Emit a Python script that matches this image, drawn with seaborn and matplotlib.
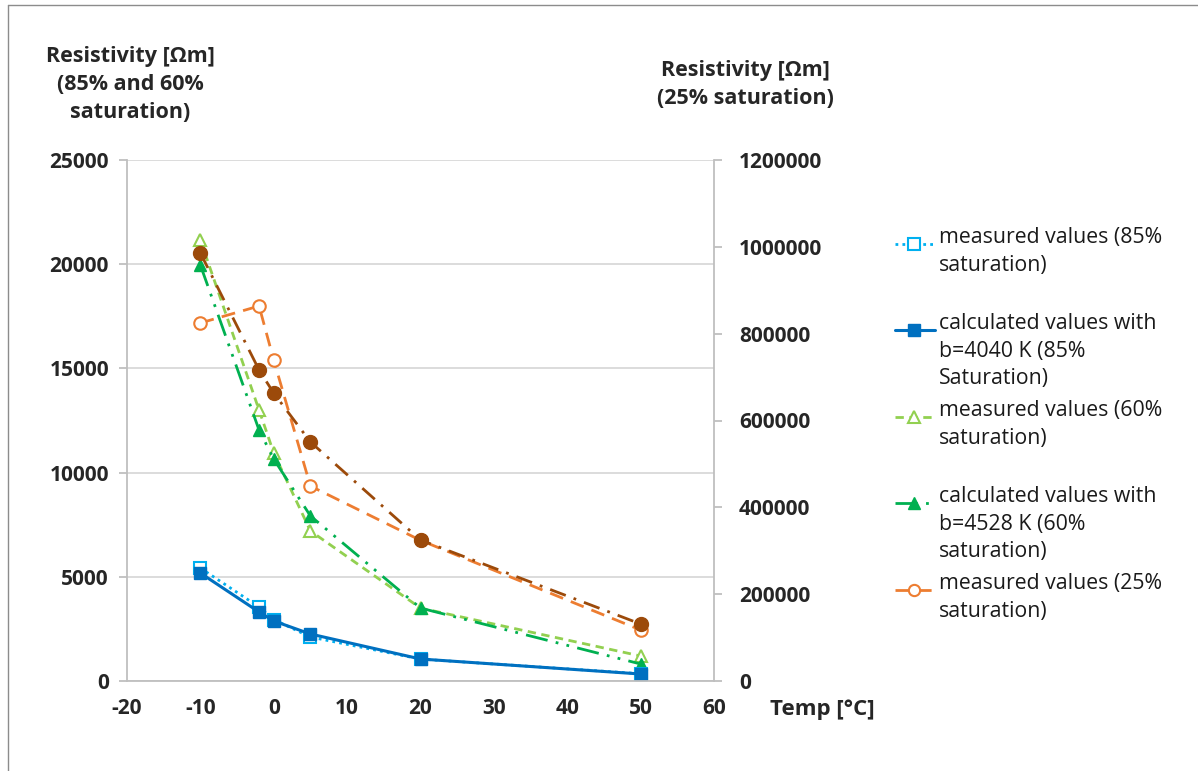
import matplotlib
matplotlib.use("Agg")
import matplotlib.pyplot as plt
from matplotlib.lines import Line2D
import seaborn as sns
import numpy as np

temps = [-10, -2, 0, 5, 20, 50]
meas_85 = [5420, 3550, 2950, 2110, 1050, 350]
calc_4040 = [5180, 3310, 2880, 2255, 1055, 336]
meas_60 = [21160, 13000, 10940, 7200, 3500, 1200]
calc_4528 = [19960, 12040, 10650, 7920, 3500, 816]
meas_25 = [824600, 863700, 739000, 449000, 324000, 117500]
calc_25 = [985800, 716300, 663000, 550500, 324800, 131300]

left_ticks = [0, 5000, 10000, 15000, 20000, 25000]
right_ticks = [0, 200000, 400000, 600000, 800000, 1000000, 1200000]
x_ticks = [-20, -10, 0, 10, 20, 30, 40, 50, 60]

labels = [
    "measured values (85%\nsaturation)",
    "calculated values with\nb=4040 K (85%\nSaturation)",
    "measured values (60%\nsaturation)",
    "calculated values with\nb=4528 K (60%\nsaturation)",
    "measured values (25%\nsaturation)",
]

sns.set_style("white")
plt.rcParams['font.family'] = ['Open Sans', 'DejaVu Sans']

W, H = 1198, 771
fig = plt.figure(figsize=(W / 100, H / 100), dpi=100)
ax = fig.add_axes([127 / W, 1 - 681 / H, (714 - 127) / W, (681 - 160) / H])
ax2 = ax.twinx()

C_LB = "#00b0f0"
C_B = "#0070c0"
C_LG = "#92d050"
C_G = "#00b050"
C_O = "#ed7d31"
C_BR = "#9c4a0a"

styles = [
    dict(color=C_LB, linestyle=(0, (1, 1.5)), lw=2, marker='s', ms=9, mfc='white', mec=C_LB, mew=1.5),
    dict(color=C_B, linestyle='-', lw=2.2, marker='s', ms=9, mfc=C_B, mec=C_B, mew=1),
    dict(color=C_LG, linestyle=(0, (3, 2)), lw=2, marker='^', ms=9, mfc='white', mec=C_LG, mew=1.5),
    dict(color=C_G, linestyle=(0, (8, 3, 1, 3, 1, 3)), lw=2, marker='^', ms=9, mfc=C_G, mec=C_G, mew=1),
    dict(color=C_O, linestyle=(0, (5, 3)), lw=2, marker='o', ms=9, mfc='white', mec=C_O, mew=1.5),
    dict(color=C_BR, linestyle=(0, (6, 3, 1, 3)), lw=2, marker='o', ms=10, mfc=C_BR, mec=C_BR, mew=1),
]

sns.lineplot(x=temps, y=meas_60, ax=ax, **styles[2])
sns.lineplot(x=temps, y=calc_4528, ax=ax, **styles[3])
sns.lineplot(x=temps, y=meas_85, ax=ax, **styles[0])
sns.lineplot(x=temps, y=calc_4040, ax=ax, **styles[1])
sns.lineplot(x=temps, y=meas_25, ax=ax2, **styles[4])
sns.lineplot(x=temps, y=calc_25, ax=ax2, **styles[5])

ax.set_xlim(-20, 60)
ax.set_ylim(0, 25000)
ax2.set_ylim(0, 1200000)
ax.set_xticks(x_ticks)
ax.set_yticks(left_ticks)
ax2.set_yticks(right_ticks)
ax.set_xticklabels([str(v) for v in x_ticks])
ax.set_yticklabels([str(v) for v in left_ticks])
ax2.set_yticklabels([str(v) for v in right_ticks])

for a in (ax, ax2):
    for s in a.spines.values():
        s.set_visible(False)
    a.set_xlabel("")
    a.set_ylabel("")
ax.grid(False)
ax2.grid(False)
ax.yaxis.grid(True, color="#d9d9d9", lw=1.3)
ax.set_axisbelow(True)
ax.spines['left'].set_visible(True)
ax.spines['bottom'].set_visible(True)
ax2.spines['right'].set_visible(True)
for s in (ax.spines['left'], ax.spines['bottom'], ax2.spines['right']):
    s.set_color("#bfbfbf")
    s.set_linewidth(1.3)

ax.tick_params(axis='both', which='major', direction='out', length=6, color="#bfbfbf", width=1.3, labelsize=15)
ax2.tick_params(axis='y', direction='out', length=6, color="#bfbfbf", width=1.3, labelsize=15, pad=12)
ax.tick_params(axis='y', pad=7)
ax.tick_params(axis='x', pad=6)
for lab in ax.get_xticklabels() + ax.get_yticklabels() + ax2.get_yticklabels():
    lab.set_fontweight('bold')

fig.text(130 / W, 1 - 46 / H, "Resistivity [Ωm]\n(85% and 60%\nsaturation)", ha='center', va='top',
         fontsize=15.5, fontweight='bold', linespacing=1.45)
fig.text(745 / W, 1 - 60 / H, "Resistivity [Ωm]\n(25% saturation)", ha='center', va='top',
         fontsize=15.5, fontweight='bold', linespacing=1.45)
fig.text(770 / W, 1 - 710 / H, "Temp [°C]", ha='left', va='center', fontsize=16, fontweight='bold')

# legend (manual, Excel-like layout)
entry_y = [244, 330, 417, 503, 590]
for lbl, st, yy in zip(labels, styles[:5], entry_y):
    yf = 1 - yy / H
    line_kw = {k: v for k, v in st.items() if k not in ('marker', 'ms', 'mfc', 'mec', 'mew')}
    fig.add_artist(Line2D([895 / W, 935 / W], [yf, yf], transform=fig.transFigure, **line_kw))
    fig.add_artist(Line2D([914 / W], [yf], transform=fig.transFigure, linestyle='none',
                          marker=st['marker'], ms=st['ms'] * 0.9, mfc=st['mfc'], mec=st['mec'], mew=st['mew']))
    fig.text(939 / W, yf + 17 / H, lbl, ha='left', va='top', fontsize=15.3, linespacing=1.42, color='#1a1a1a')

# outer frame
fig.add_artist(Line2D([8 / W, 8 / W], [0, 1 - 5 / H], transform=fig.transFigure, color="#8c8c8c", lw=1))
fig.add_artist(Line2D([8 / W, 1], [1 - 5 / H, 1 - 5 / H], transform=fig.transFigure, color="#8c8c8c", lw=1))

fig.savefig("out.png", dpi=100)
